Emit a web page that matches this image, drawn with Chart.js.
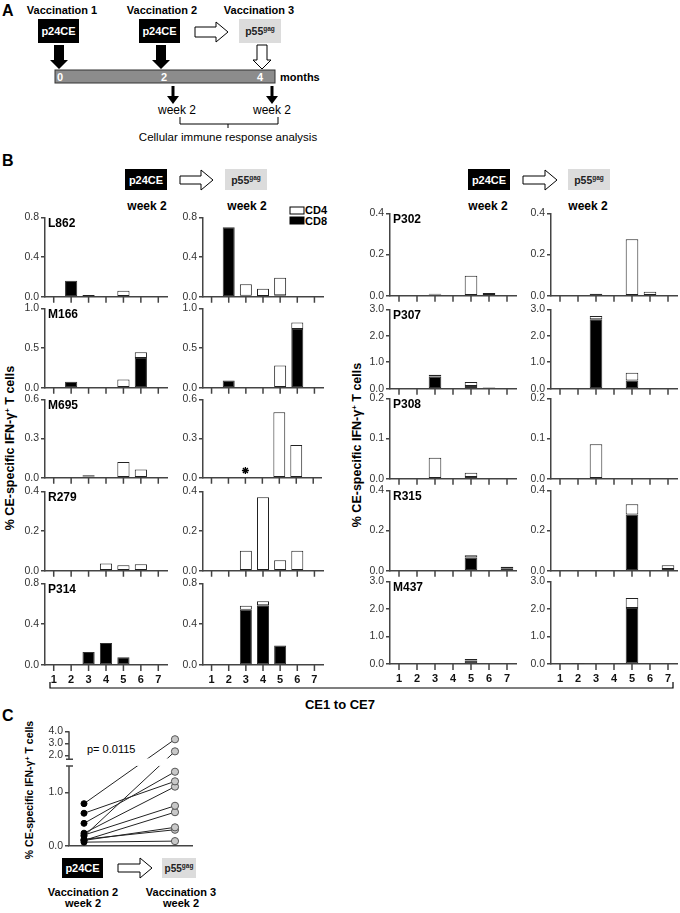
<!DOCTYPE html>
<html>
<head>
<meta charset="utf-8">
<script src="https://cdn.jsdelivr.net/npm/chart.js@4.4.0/dist/chart.umd.min.js"></script>
<style>
  body { margin: 0; background: #fff; }
  #page { position: relative; width: 680px; height: 913px; overflow: hidden; font-family: "Liberation Sans", Arial, sans-serif; }
  #page canvas { position: absolute; }
  #deco { position: absolute; left: 0; top: 0; }
  #deco text { font-family: "Liberation Sans", Arial, sans-serif; }
  .b { font-weight: bold; }
</style>
</head>
<body>
<div id="page">
<svg id="deco" width="680" height="913" xmlns="http://www.w3.org/2000/svg">
  <!-- panel A -->
  <text x="2" y="16" class="b" font-size="16">A</text>
  <text x="62" y="14" class="b" font-size="11" text-anchor="middle">Vaccination 1</text>
  <text x="162" y="14" class="b" font-size="11" text-anchor="middle">Vaccination 2</text>
  <text x="259" y="14" class="b" font-size="11" text-anchor="middle">Vaccination 3</text>
  <rect x="38" y="19" width="41" height="24" fill="#000"/>
  <text x="58.5" y="35" class="b" font-size="11" fill="#fff" text-anchor="middle">p24CE</text>
  <rect x="139" y="19" width="41" height="24" fill="#000"/>
  <text x="159.5" y="35" class="b" font-size="11" fill="#fff" text-anchor="middle">p24CE</text>
  <polygon points="195,27 216,27 216,22 228,32 216,42 216,37 195,37" fill="#fff" stroke="#000" stroke-width="1"/>
  <rect x="239" y="19" width="42" height="24" fill="#dcdcdc"/>
  <text x="260" y="35" class="b" font-size="10.5" fill="#222" text-anchor="middle">p55<tspan font-size="6.5" dy="-4">gag</tspan></text>
  <polygon points="54,45 64,45 64,60 68,60 59,69 50,60 54,60" fill="#000"/>
  <polygon points="156,45 166,45 166,60 170,60 161,69 152,60 156,60" fill="#000"/>
  <polygon points="257,45 267,45 267,60 271,60 262,69 253,60 257,60" fill="#fff" stroke="#000" stroke-width="1"/>
  <rect x="55" y="70" width="220" height="13" fill="#8c8c8c" stroke="#333" stroke-width="1"/>
  <text x="60" y="81" class="b" font-size="11" fill="#fff" text-anchor="middle">0</text>
  <text x="164" y="81" class="b" font-size="11" fill="#fff" text-anchor="middle">2</text>
  <text x="260" y="81" class="b" font-size="11" fill="#fff" text-anchor="middle">4</text>
  <text x="280" y="81" class="b" font-size="11">months</text>
  <line x1="173" y1="86" x2="173" y2="99" stroke="#000" stroke-width="3"/>
  <polygon points="167,96 179,96 173,104" fill="#000"/>
  <line x1="272" y1="86" x2="272" y2="99" stroke="#000" stroke-width="3"/>
  <polygon points="266,96 278,96 272,104" fill="#000"/>
  <text x="177" y="114" font-size="12" text-anchor="middle">week 2</text>
  <text x="272" y="114" font-size="12" text-anchor="middle">week 2</text>
  <path d="M180,117 L180,124 L278,124 L278,117 M228,124 L228,128" fill="none" stroke="#000" stroke-width="1"/>
  <text x="228" y="141" font-size="11.5" text-anchor="middle">Cellular immune response analysis</text>

  <!-- panel B headers -->
  <text x="2" y="166" class="b" font-size="16">B</text>
  <rect x="125" y="169" width="42" height="21" fill="#000"/>
  <text x="146" y="184" class="b" font-size="11" fill="#fff" text-anchor="middle">p24CE</text>
  <polygon points="180,176 201,176 201,170 213,180 201,190 201,184 180,184" fill="#fff" stroke="#000" stroke-width="1"/>
  <rect x="225" y="169" width="42" height="21" fill="#dcdcdc"/>
  <text x="246" y="184" class="b" font-size="10.5" fill="#222" text-anchor="middle">p55<tspan font-size="6.5" dy="-4">gag</tspan></text>
  <text x="147" y="210" class="b" font-size="12" text-anchor="middle">week 2</text>
  <text x="247" y="210" class="b" font-size="12" text-anchor="middle">week 2</text>
  <rect x="290" y="207" width="14" height="7" fill="#fff" stroke="#000" stroke-width="1"/>
  <text x="305" y="214" class="b" font-size="11">CD4</text>
  <rect x="290" y="217" width="14" height="7" fill="#000" stroke="#000" stroke-width="1"/>
  <text x="305" y="225" class="b" font-size="11">CD8</text>

  <rect x="468" y="169" width="42" height="21" fill="#000"/>
  <text x="489" y="184" class="b" font-size="11" fill="#fff" text-anchor="middle">p24CE</text>
  <polygon points="523,176 545,176 545,170 557,180 545,190 545,184 523,184" fill="#fff" stroke="#000" stroke-width="1"/>
  <rect x="568" y="169" width="42" height="21" fill="#dcdcdc"/>
  <text x="589" y="184" class="b" font-size="10.5" fill="#222" text-anchor="middle">p55<tspan font-size="6.5" dy="-4">gag</tspan></text>
  <text x="488" y="210" class="b" font-size="12" text-anchor="middle">week 2</text>
  <text x="588" y="210" class="b" font-size="12" text-anchor="middle">week 2</text>

  <text transform="translate(14,448) rotate(-90)" class="b" font-size="12.5" text-anchor="middle">% CE-specific IFN-γ<tspan font-size="8" dy="-4">+</tspan><tspan dy="4"> T cells</tspan></text>
  <text transform="translate(361,445) rotate(-90)" class="b" font-size="12.5" text-anchor="middle">% CE-specific IFN-γ<tspan font-size="8" dy="-4">+</tspan><tspan dy="4"> T cells</tspan></text>

  <path d="M50,682 L50,688 L673,688 L673,682" fill="none" stroke="#000" stroke-width="1.2"/>
  <text x="340" y="709" class="b" font-size="13" text-anchor="middle">CE1 to CE7</text>

  <!-- panel C -->
  <text x="2" y="721" class="b" font-size="16">C</text>
  <text transform="translate(33,790) rotate(-90)" class="b" font-size="10.5" text-anchor="middle">% CE-specific IFN-γ<tspan font-size="7" dy="-3">+</tspan><tspan dy="3"> T cells</tspan></text>
  <text x="87" y="753" font-size="11">p= 0.0115</text>
  <rect x="62" y="858" width="41" height="20" fill="#000"/>
  <text x="82.5" y="872" class="b" font-size="11" fill="#fff" text-anchor="middle">p24CE</text>
  <polygon points="118,864 140,864 140,858 152,868 140,878 140,872 118,872" fill="#fff" stroke="#000" stroke-width="1"/>
  <rect x="162" y="858" width="34" height="20" fill="#dcdcdc"/>
  <text x="179" y="872" class="b" font-size="10" fill="#222" text-anchor="middle">p55<tspan font-size="6.5" dy="-4">gag</tspan></text>
  <text x="83" y="896" class="b" font-size="11" text-anchor="middle">Vaccination 2</text>
  <text x="83" y="907" class="b" font-size="11" text-anchor="middle">week 2</text>
  <text x="181" y="896" class="b" font-size="11" text-anchor="middle">Vaccination 3</text>
  <text x="181" y="907" class="b" font-size="11" text-anchor="middle">week 2</text>
</svg>
</div>

<script>
// ---- data: panel B (CE1..CE7, % IFN-γ+ T cells) ----
const ceLabels = ['1', '2', '3', '4', '5', '6', '7'];
const patients = ['L862', 'M166', 'M695', 'R279', 'P314', 'P302', 'P307', 'P308', 'R315', 'M437'];
const yMaxes = [0.8, 1.0, 0.6, 0.4, 0.8, 0.4, 3.0, 0.2, 0.4, 3.0];
const yTickSets = [
  [0, 0.4, 0.8], [0, 0.5, 1.0], [0, 0.3, 0.6], [0, 0.2, 0.4], [0, 0.4, 0.8],
  [0, 0.2, 0.4], [0, 1, 2, 3], [0, 0.1, 0.2], [0, 0.2, 0.4], [0, 1, 2, 3]
];

// after p24CE (vaccination 2, week 2)
const cd8AfterP24 = [
  [0, 0.16, 0.005, 0, 0, 0, 0],
  [0, 0.075, 0, 0, 0, 0.375, 0],
  [0, 0, 0.01, 0, 0.005, 0.005, 0],
  [0, 0, 0, 0, 0, 0, 0],
  [0, 0, 0.127, 0.215, 0.076, 0, 0],
  [0, 0, 0.006, 0, 0.003, 0, 0],
  [0, 0, 0.46, 0, 0.1, 0.03, 0],
  [0, 0, 0, 0, 0.004, 0, 0],
  [0, 0, 0, 0, 0.066, 0, 0.01],
  [0, 0, 0, 0, 0.13, 0, 0]
];
const cd4AfterP24 = [
  [0, 0, 0.012, 0, 0.06, 0, 0],
  [0, 0, 0, 0, 0.104, 0.07, 0],
  [0, 0, 0.008, 0, 0.115, 0.058, 0],
  [0, 0, 0, 0.036, 0.028, 0.033, 0],
  [0, 0, 0, 0, 0, 0, 0],
  [0, 0, 0.004, 0, 0.094, 0.013, 0],
  [0, 0, 0.07, 0, 0.15, 0.02, 0],
  [0, 0, 0.052, 0, 0.011, 0, 0],
  [0, 0, 0, 0, 0.011, 0, 0.01],
  [0, 0, 0, 0, 0.05, 0, 0]
];
// after p55gag (vaccination 3, week 2)
const cd8AfterP55 = [
  [0, 0.70, 0.01, 0, 0.015, 0, 0],
  [0, 0.09, 0, 0, 0, 0.74, 0],
  [0, 0, 0, 0, 0, 0, 0],
  [0, 0, 0.004, 0, 0, 0, 0],
  [0, 0, 0.54, 0.585, 0.19, 0, 0],
  [0, 0, 0.01, 0, 0, 0, 0],
  [0, 0, 2.62, 0, 0.31, 0.02, 0],
  [0, 0, 0, 0, 0, 0, 0],
  [0, 0, 0, 0, 0.28, 0, 0.008],
  [0, 0.02, 0, 0, 2.03, 0, 0]
];
const cd4AfterP55 = [
  [0, 0, 0.115, 0.08, 0.175, 0, 0],
  [0, 0, 0, 0, 0.28, 0.08, 0],
  [0, 0, 0, 0, 0.5, 0.25, 0],
  [0, 0, 0.096, 0.37, 0.053, 0.1, 0],
  [0, 0, 0.04, 0.04, 0, 0, 0],
  [0, 0, 0, 0, 0.274, 0.019, 0],
  [0, 0, 0.13, 0, 0.29, 0.01, 0],
  [0, 0, 0.086, 0, 0, 0, 0],
  [0, 0, 0, 0, 0.05, 0, 0.019],
  [0, 0.01, 0, 0, 0.36, 0, 0]
];
const starPatient = 'M695';
const starMarks = [null, null, 0.055, null, null, null, null];

// ---- data: panel C (sum over CEs) ----
const cSubjects = ['P307', 'M166', 'P314', 'L862', 'M437', 'M695', 'R279', 'R315', 'P302', 'P308'];
const cBefore = [0.79, 0.61, 0.42, 0.235, 0.18, 0.2, 0.1, 0.1, 0.12, 0.067];
const cAfter = [3.34, 1.21, 1.39, 1.11, 2.34, 0.75, 0.63, 0.345, 0.30, 0.086];
const cTickValues = [0, 1, 2, 3, 4];
const cTickLabels = ['0.0', '1.0', '2.0', '3.0', '4.0'];

// ---- layout ----
const colLeft = [45, 203, 390, 551];
const colRight = [167, 323, 516, 677];
const rowTop = [[217, 308, 399, 491, 583], [213, 309, 398, 490, 581]];
const rowBottom = [[297, 388, 478, 571, 665], [296, 389, 479, 571, 664]];

const page = document.getElementById('page');
const axisColor = '#444';
const axisWidth = 1.5;
const tickFont = { family: '"Liberation Sans", Arial, sans-serif', size: 10.5 };
const boldFont = { family: '"Liberation Sans", Arial, sans-serif', size: 11, weight: 'bold' };

function addCanvas(left, top, width, height) {
  const c = document.createElement('canvas');
  c.width = width;
  c.height = height;
  c.style.left = left + 'px';
  c.style.top = top + 'px';
  c.style.width = width + 'px';
  c.style.height = height + 'px';
  page.appendChild(c);
  return c;
}

const nz = v => (v === 0 ? null : v);

// patient name in the corner, and tick marks under each CE on the x axis
const panelMarks = {
  id: 'panelMarks',
  afterDraw(chart, args, opts) {
    const { ctx, chartArea, scales } = chart;
    ctx.save();
    ctx.strokeStyle = axisColor;
    ctx.lineWidth = axisWidth;
    ctx.beginPath();
    scales.x.ticks.forEach((t, i) => {
      const x = scales.x.getPixelForTick(i);
      ctx.moveTo(x, chartArea.bottom);
      ctx.lineTo(x, chartArea.bottom + 6);
    });
    ctx.stroke();
    if (opts.text) {
      ctx.font = 'bold 12px "Liberation Sans", Arial, sans-serif';
      ctx.fillStyle = '#000';
      ctx.textBaseline = 'alphabetic';
      ctx.fillText(opts.text, chartArea.left + 3, chartArea.top + 10);
    }
    ctx.restore();
  }
};

function barChart(p, week) {
  const group = p < 5 ? 0 : 1;
  const row = p % 5;
  const col = group * 2 + week;
  const bottomRow = row === 4;
  const padL = 34, padT = 8, padR = 4, padB = bottomRow ? 20 : 8;
  const top = rowTop[group][row], bottom = rowBottom[group][row];
  const left = colLeft[col], right = colRight[col];
  const canvas = addCanvas(left - padL, top - padT, right - left + padL + padR, bottom - top + padT + padB);

  const cd8 = week === 0 ? cd8AfterP24[p] : cd8AfterP55[p];
  const cd4 = week === 0 ? cd4AfterP24[p] : cd4AfterP55[p];
  const datasets = [
    {
      label: 'CD8', data: cd8.map(nz), stack: 's',
      backgroundColor: '#000', borderColor: '#333', borderWidth: 1, borderSkipped: false,
      barPercentage: 0.7, categoryPercentage: 1.0,
    },
    {
      label: 'CD4', data: cd4.map(nz), stack: 's',
      backgroundColor: '#fff', borderColor: '#222', borderWidth: 1, borderSkipped: false,
      barPercentage: 0.7, categoryPercentage: 1.0,
    },
  ];
  if (week === 1 && patients[p] === starPatient) {
    datasets.push({
      type: 'line', label: 'star', data: starMarks, stack: 'star', showLine: false,
      pointStyle: 'star', pointRadius: 3.5, borderColor: '#000', pointBorderWidth: 1.3,
    });
  }
  const ticks = yTickSets[p];

  new Chart(canvas, {
    type: 'bar',
    data: { labels: ceLabels, datasets },
    plugins: [panelMarks],
    options: {
      responsive: false,
      animation: false,
      devicePixelRatio: 1,
      layout: { padding: { top: padT, right: padR, left: 0, bottom: 0 } },
      plugins: {
        legend: { display: false },
        tooltip: { enabled: false },
        panelMarks: { text: week === 0 ? patients[p] : '' },
      },
      scales: {
        x: {
          stacked: true,
          grid: { display: false, drawTicks: true, tickLength: 6, offset: false },
          border: { display: true, color: axisColor, width: axisWidth },
          ticks: {
            display: bottomRow, font: boldFont, color: '#111', padding: 2,
            maxRotation: 0, autoSkip: false,
          },
          afterFit: s => { s.height = padB; },
        },
        y: {
          stacked: true,
          min: 0,
          max: yMaxes[p],
          grid: { drawOnChartArea: false, drawTicks: true, tickLength: 4, color: axisColor, lineWidth: axisWidth },
          border: { display: true, color: axisColor, width: axisWidth },
          ticks: { font: tickFont, color: '#333', padding: 2, callback: v => v.toFixed(1) },
          afterBuildTicks: s => { s.ticks = ticks.map(v => ({ value: v })); },
          afterFit: s => { s.width = padL; },
        },
      },
    },
  });
}

for (let p = 0; p < patients.length; p++) {
  barChart(p, 0);
  barChart(p, 1);
}

// ---- panel C: broken y axis (0-1.5 linear, 2-4 compressed) ----
const breakLow = 1.5;
const upperBase = 1.696;
const upperScale = 0.227;
const cTransform = v => (v <= breakLow ? v : upperBase + (v - 2) * upperScale);

const brokenAxis = {
  id: 'brokenAxis',
  afterDatasetsDraw(chart) {
    const { ctx, chartArea, scales } = chart;
    const yA = scales.y.getPixelForValue(breakLow);
    const yB = scales.y.getPixelForValue(1.64);
    ctx.save();
    ctx.fillStyle = '#fff';
    ctx.fillRect(chartArea.left + 2, yB, chartArea.right - chartArea.left, yA - yB);
    ctx.restore();
  },
  afterDraw(chart) {
    const { ctx, chartArea, scales } = chart;
    const x = chartArea.left;
    const y0 = scales.y.getPixelForValue(0);
    const yA = scales.y.getPixelForValue(breakLow);
    const yB = scales.y.getPixelForValue(1.625);
    const yTop = scales.y.getPixelForValue(scales.y.max);
    ctx.save();
    ctx.strokeStyle = axisColor;
    ctx.lineWidth = axisWidth;
    ctx.beginPath();
    ctx.moveTo(x, y0);
    ctx.lineTo(x, yA);
    ctx.moveTo(x - 3, yA);
    ctx.lineTo(x + 4, yA);
    ctx.moveTo(x, yB);
    ctx.lineTo(x, yTop);
    ctx.moveTo(x - 3, yB);
    ctx.lineTo(x + 4, yB);
    ctx.stroke();
    ctx.restore();
  }
};

(function panelC() {
  const left = 69, right = 192, top = 730.5, bottom = 851;
  const padL = 30, padT = 8, padR = 6, padB = 2;
  const canvas = addCanvas(left - padL, Math.round(top - padT), right - left + padL + padR, Math.round(bottom - top + padT + padB));
  const datasets = cSubjects.map((s, i) => ({
    label: s,
    data: [{ x: 0, y: cTransform(cBefore[i]) }, { x: 1, y: cTransform(cAfter[i]) }],
    borderColor: '#222',
    borderWidth: 1,
    pointRadius: [3, 3.6],
    pointBackgroundColor: ['#000', '#c8c8c8'],
    pointBorderColor: ['#000', '#555'],
    pointBorderWidth: 1,
  }));
  new Chart(canvas, {
    type: 'line',
    data: { datasets },
    plugins: [brokenAxis],
    options: {
      responsive: false,
      animation: false,
      devicePixelRatio: 1,
      layout: { padding: { top: padT, right: padR, left: 0, bottom: 0 } },
      plugins: { legend: { display: false }, tooltip: { enabled: false } },
      scales: {
        x: {
          type: 'linear', min: -0.165, max: 1.187,
          grid: { display: false },
          border: { display: true, color: axisColor, width: axisWidth },
          ticks: { display: false },
          afterFit: s => { s.height = padB; },
        },
        y: {
          min: 0, max: 2.15,
          grid: { drawOnChartArea: false, drawTicks: true, tickLength: 4, color: axisColor, lineWidth: axisWidth },
          border: { display: false },
          ticks: { font: tickFont, color: '#333', padding: 2, callback: (v, i) => cTickLabels[i] },
          afterBuildTicks: s => { s.ticks = cTickValues.map(v => ({ value: cTransform(v) })); },
          afterFit: s => { s.width = padL; },
        },
      },
    },
  });
})();
</script>
</body>
</html>
